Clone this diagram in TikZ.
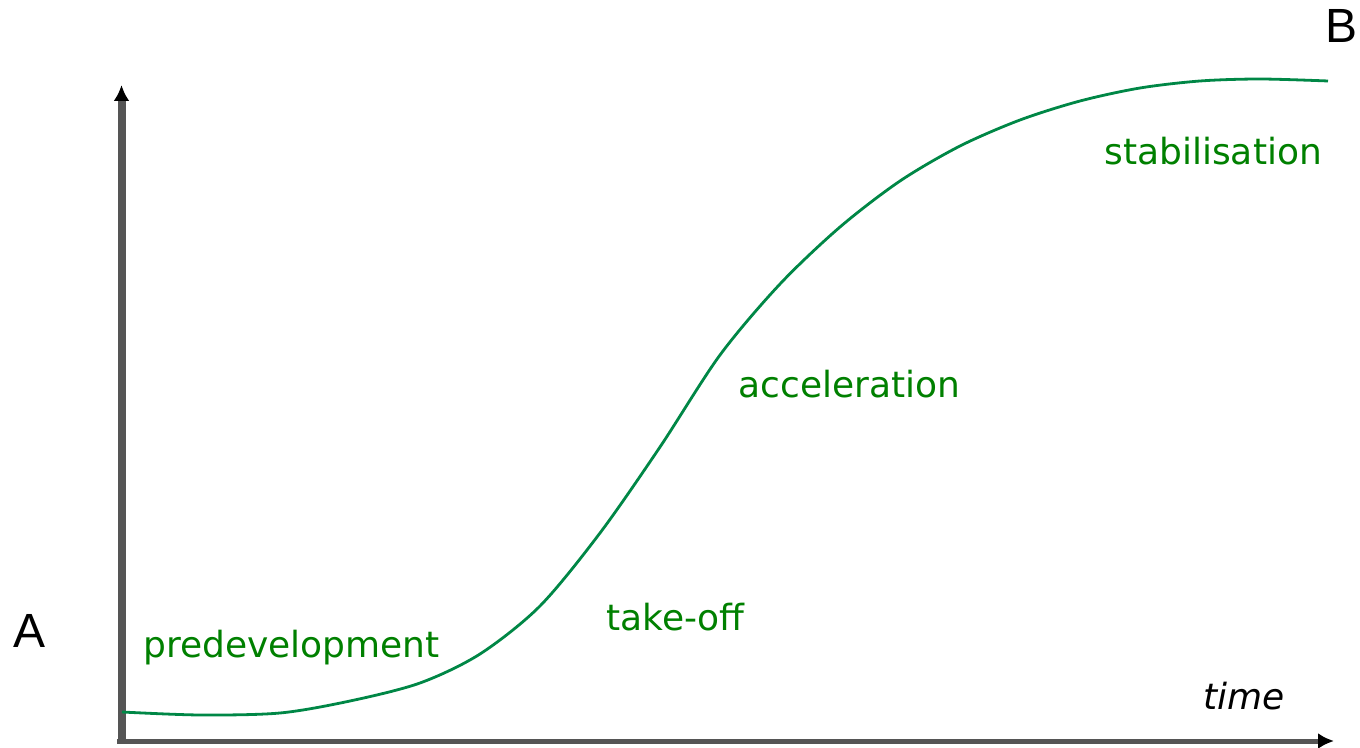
\documentclass[tikz,border=0pt]{standalone}
\usepackage{fontspec}
\setmainfont{DejaVu Sans}
\newfontfamily\endfont{Liberation Sans}
\usetikzlibrary{arrows.meta}
\definecolor{curvegreen}{RGB}{0,135,70}
\definecolor{phasegreen}{RGB}{0,128,0}
\definecolor{axisgray}{RGB}{85,85,85}
\tikzset{
  phase/.style={phasegreen, anchor=base west, inner sep=0pt, font=\fontsize{18}{20}\selectfont},
  endlabel/.style={anchor=base, inner sep=0pt, font=\endfont\fontsize{24}{28}\selectfont}
}

\begin{document}
\begin{tikzpicture}[x=0.5pt,y=-0.5pt]
\useasboundingbox (0,0) rectangle (1360,748);
% axes
\draw [axisgray, line width=4pt, -{Latex[black,length=8pt,width=8pt]}] (121.5,743) -- (121.5,85);
\draw [axisgray, line width=2.5pt, -{Latex[black,length=8pt,width=8pt]}] (117,741) -- (1334,741);
% growth curve
\draw [curvegreen, line width=1.4pt] plot [smooth] coordinates {(122,712) (200,715) (280,713) (350,701) (420,683) (480,654) (540,606) (600,533) (660,447) (720,355) (780,284) (840,227) (900,181) (960,146) (1020,120) (1080,101) (1140,88) (1200,81) (1260,79) (1328,81)};
% labels
\node [endlabel] (A) at (30,647) {A};
\node [endlabel] (B) at (1341,43) {B};
\node [phase] (predev) at (143,657) {predevelopment};
\node [phase] (takeoff) at (606,630) {take-off};
\node [phase] (accel) at (738,398) {acceleration};
\node [phase] (stab) at (1104,165) {stabilisation};
\node [phase, black, font=\fontsize{18}{20}\selectfont\itshape] (time) at (1203,709) {time};
\end{tikzpicture}
\end{document}
